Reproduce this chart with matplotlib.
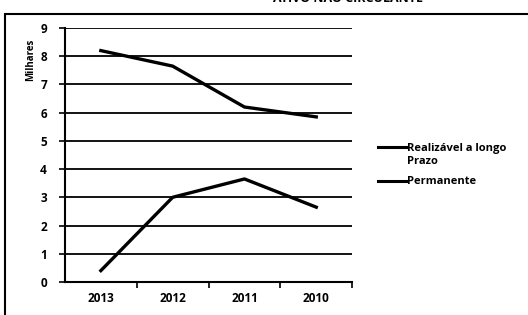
import matplotlib
matplotlib.use('Agg')
import matplotlib.pyplot as plt
from matplotlib.patches import Rectangle
from matplotlib.lines import Line2D

# dados do gráfico
anos = ['2013', '2012', '2011', '2010']
realizavel = [8.2, 7.65, 6.2, 5.85]
permanente = [0.4, 3.0, 3.65, 2.65]
nomes = ['Realizável a longo\nPrazo', 'Permanente']

plt.rcParams['font.family'] = ['Open Sans', 'DejaVu Sans']
plt.rcParams['font.weight'] = 'bold'

W, H = 528, 315
fig = plt.figure(figsize=(5.28, 3.15), dpi=100)
ax = fig.add_axes([0.123, 0.105, 0.544, 0.806])

x = range(len(anos))
ax.plot(x, realizavel, color='black', lw=2.4)
ax.plot(x, permanente, color='black', lw=2.4)

ax.set_xlim(-0.5, len(anos) - 0.5)
ax.set_ylim(0, 9)
ax.set_yticks(range(10))
ax.set_xticks(list(x))
ax.set_xticklabels(anos)
ax.set_xticks([i + 0.5 for i in x], minor=True)
ax.tick_params(axis='x', which='major', length=0, labelsize=8.5, pad=7)
ax.tick_params(axis='x', which='minor', length=4, width=1.2, direction='out')
ax.tick_params(axis='y', length=4, width=1.2, labelsize=8.5, pad=9)
for lab in ax.get_xticklabels() + ax.get_yticklabels():
    lab.set_fontweight('bold')

ax.grid(axis='y', color='black', lw=1.3)
ax.set_axisbelow(True)
for s in ['top', 'right']:
    ax.spines[s].set_visible(False)
for s in ['left', 'bottom']:
    ax.spines[s].set_linewidth(1.5)

fig.text(31 / W, 1 - 60 / H, 'Milhares', rotation=90, ha='center', va='center',
         fontsize=7, fontweight='bold')

# legenda desenhada à mão (linha alinhada com a primeira linha do texto)
for nome, yp in zip(nomes, [147, 181]):
    fy = 1 - yp / H
    fig.add_artist(Line2D([378 / W, 406 / W], [fy, fy], color='black', lw=2.2,
                          transform=fig.transFigure))
    fig.text(407 / W, fy + 4.5 / H, nome, ha='left', va='top', fontsize=8,
             fontweight='bold', linespacing=1.35)

fig.text(0.66, 1 - 5 / H, 'ATIVO NÃO CIRCULANTE', ha='center', va='bottom',
         fontsize=9, fontweight='bold')

fig.patches.append(Rectangle((5 / W, -0.05), 1.1, 1 - 14 / H + 0.05,
                             transform=fig.transFigure, fill=False,
                             edgecolor='black', lw=1.5))

fig.savefig('out.png', dpi=100)
